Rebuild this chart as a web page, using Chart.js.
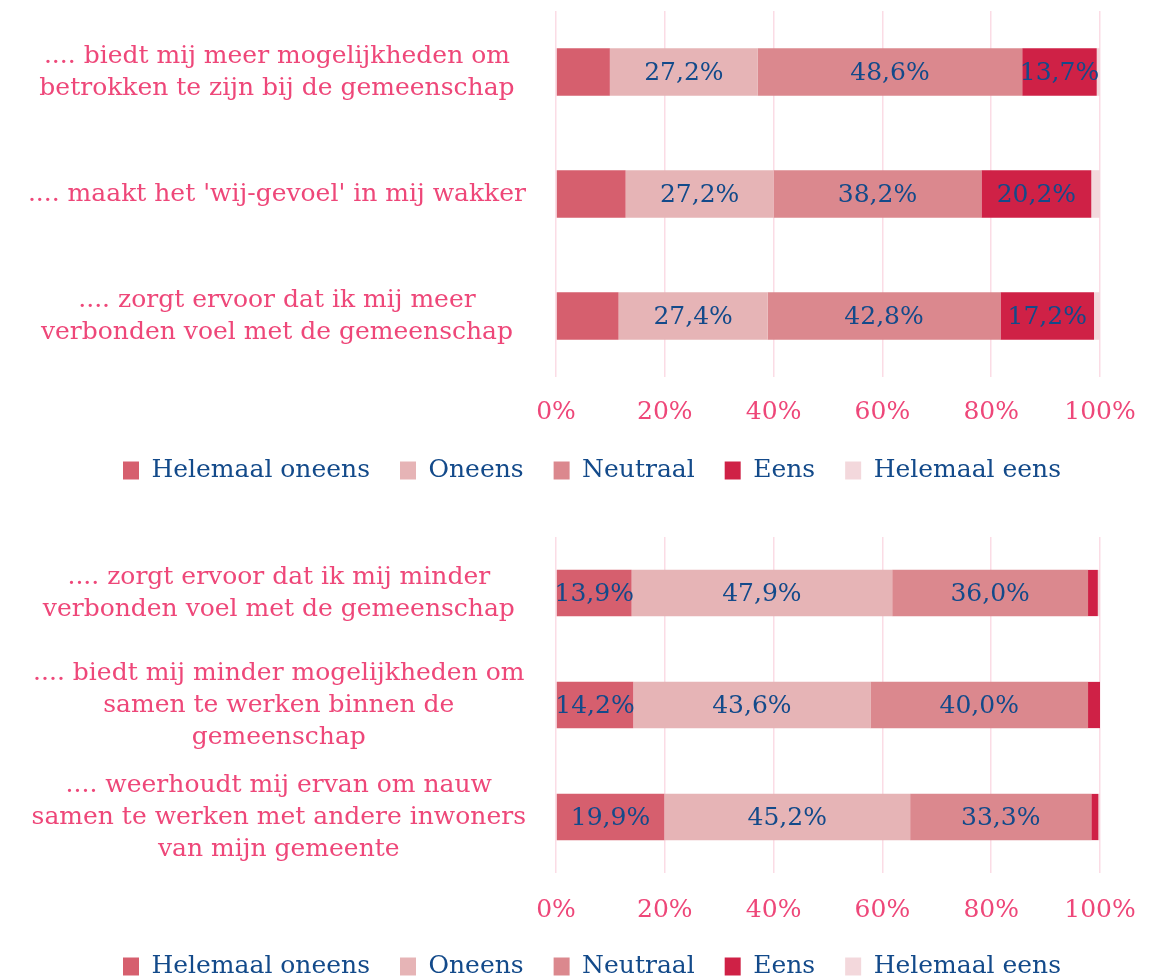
<!DOCTYPE html>
<html>
<head>
<meta charset="utf-8">
<script src="https://cdn.jsdelivr.net/npm/chart.js@4"></script>
<style>
  html, body { margin: 0; padding: 0; background: #fff; overflow: hidden; }
  .box { position: absolute; left: 0; width: 1160px; }
  #top { top: 0; height: 500px; }
  #bottom { top: 495px; height: 503px; }
</style>
</head>
<body>
<div class="box" id="top"><canvas id="chartTop"></canvas></div>
<div class="box" id="bottom"><canvas id="chartBottom"></canvas></div>
<script>
// categorieen (van boven naar beneden)
var labelsTop = [
    ['.... biedt mij meer mogelijkheden om', 'betrokken te zijn bij de gemeenschap'],
    ".... maakt het 'wij-gevoel' in mij wakker",
    ['.... zorgt ervoor dat ik mij meer', 'verbonden voel met de gemeenschap']
];
var labelsBottom = [
    ['.... zorgt ervoor dat ik mij minder', 'verbonden voel met de gemeenschap'],
    ['.... biedt mij minder mogelijkheden om', 'samen te werken binnen de', 'gemeenschap'],
    ['.... weerhoudt mij ervan om nauw', 'samen te werken met andere inwoners', 'van mijn gemeente']
];

var seriesNames = ['Helemaal oneens', 'Oneens', 'Neutraal', 'Eens', 'Helemaal eens'];

// percentages bovenste grafiek
var helemaalOneensTop = [9.9, 12.8, 11.5];
var oneensTop = [27.2, 27.2, 27.4];
var neutraalTop = [48.6, 38.2, 42.8];
var eensTop = [13.7, 20.2, 17.2];
var helemaalEensTop = [0.6, 1.6, 1.1];

// percentages onderste grafiek
var helemaalOneensBottom = [13.9, 14.2, 19.9];
var oneensBottom = [47.9, 43.6, 45.2];
var neutraalBottom = [36.0, 40.0, 33.3];
var eensBottom = [1.8, 2.2, 1.3];
var helemaalEensBottom = [0.4, 0, 0.3];

var tickValues = [0, 20, 40, 60, 80, 100];

var colors = ['#D65F6E', '#E6B4B6', '#DB888E', '#CF2146', '#F3D8DC'];
var FONT = "'DejaVu Serif', Georgia, serif";
var PINK = '#EE4779';
var BLUE = '#134A8A';

// labels in de balken (alleen grotere stukken)
var barLabels = {
    id: 'barLabels',
    afterDatasetsDraw(chart) {
        let ctx = chart.ctx;
        ctx.save();
        ctx.font = '25px ' + FONT;
        ctx.fillStyle = BLUE;
        ctx.textAlign = 'center';
        ctx.textBaseline = 'middle';
        chart.data.datasets.forEach((ds, i) => {
            let meta = chart.getDatasetMeta(i);
            meta.data.forEach((bar, j) => {
                let v = ds.data[j];
                if (v >= 13) {
                    ctx.fillText(v.toFixed(1).replace('.', ',') + '%', (bar.x + bar.base) / 2, bar.y + 1);
                }
            });
        });
        ctx.restore();
    }
};

// legenda iets naar rechts schuiven (zoals in het origineel)
var legendShift = {
    id: 'legendShift',
    afterLayout(chart) {
        if (chart.legend) {
            chart.legend.left += 42;
            chart.legend.right += 42;
        }
    }
};

function makeChart(id, labels, values, o) {
    return new Chart(document.getElementById(id), {
        type: 'bar',
        data: {
            labels: labels,
            datasets: seriesNames.map((name, i) => ({
                label: name,
                data: values[i],
                backgroundColor: colors[i],
                borderWidth: 0,
                categoryPercentage: 1,
                barPercentage: o.barPct
            }))
        },
        options: {
            indexAxis: 'y',
            responsive: true,
            maintainAspectRatio: false,
            animation: false,
            layout: { padding: { top: o.padTop, left: 0, right: 60, bottom: o.padBottom } },
            scales: {
                x: {
                    stacked: true,
                    min: 0,
                    max: 100,
                    afterBuildTicks(scale) {
                        scale.ticks = tickValues.map(v => ({ value: v }));
                    },
                    afterFit(scale) {
                        scale.height = o.axisHeight;
                        scale.paddingLeft = 0;
                        scale.paddingRight = 0;
                    },
                    grid: { color: '#FBDCE5', lineWidth: 1.5, drawTicks: false },
                    border: { display: false },
                    ticks: {
                        color: PINK,
                        padding: o.tickPad,
                        font: { family: FONT, size: 25 },
                        callback: v => v + '%'
                    }
                },
                y: {
                    stacked: true,
                    afterFit(scale) {
                        scale.width = 556;
                        scale.paddingTop = 0;
                        scale.paddingBottom = 0;
                    },
                    grid: { display: false },
                    border: { display: false },
                    ticks: {
                        color: PINK,
                        padding: 22,
                        crossAlign: 'center',
                        font: { family: FONT, size: 25, lineHeight: 1.28 }
                    }
                }
            },
            plugins: {
                legend: {
                    position: 'bottom',
                    labels: {
                        color: BLUE,
                        boxWidth: 16,
                        boxHeight: 18,
                        padding: 30,
                        font: { family: FONT, size: 25 }
                    }
                },
                tooltip: { enabled: false }
            }
        },
        plugins: [barLabels, legendShift]
    });
}

makeChart('chartTop', labelsTop,
    [helemaalOneensTop, oneensTop, neutraalTop, eensTop, helemaalEensTop],
    { padTop: 11, padBottom: 7, axisHeight: 51, tickPad: 20, barPct: 0.39 });
makeChart('chartBottom', labelsBottom,
    [helemaalOneensBottom, oneensBottom, neutraalBottom, eensBottom, helemaalEensBottom],
    { padTop: 42, padBottom: 9, axisHeight: 51, tickPad: 22, barPct: 0.413 });
</script>
</body>
</html>
